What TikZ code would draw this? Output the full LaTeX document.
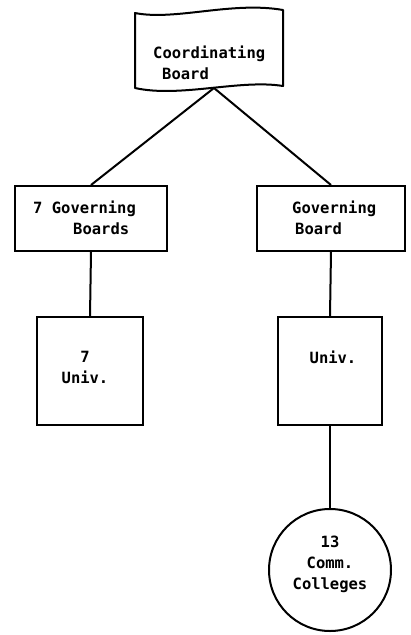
\documentclass[tikz,border=0pt]{standalone}
\usepackage{fontspec}
\setmonofont{DejaVu Sans Mono}
\begin{document}
\begin{tikzpicture}[x=1pt,y=-1pt,
  orgline/.style={line width=2pt},
  orgbox/.style={draw,line width=2pt,rectangle,inner sep=0pt},
  orgtext/.style={font=\ttfamily\bfseries\fontsize{15.5}{21}\selectfont,inner sep=0pt},
]
\useasboundingbox (0,0) rectangle (410,635);

% Coordinating board: a sheet with wavy top and bottom edges
\node[minimum width=148pt,minimum height=78pt,inner sep=0pt] (cb) at (209,50) {};
\draw[orgline,line join=round]
  (135,13) .. controls (175,21) and (232,1) .. (283,10)
  -- (283,86)
  .. controls (240,79) and (180,98) .. (135,88) -- cycle;
\coordinate (cbtip) at (214,88);
\node[orgtext,anchor=west,align=left] (cbt) at (153,63) {Coordinating\\\hspace*{9pt}Board};

% Second level: governing boards
\node[orgbox,minimum width=152pt,minimum height=65pt] (gb1) at (91,218.5) {};
\node[orgtext,anchor=west,align=left] (gb1t) at (33,218) {7 Governing\\\hspace*{40pt}Boards};
\node[orgbox,minimum width=148pt,minimum height=65pt] (gb2) at (331,218.5) {};
\node[orgtext,anchor=west,align=left] (gb2t) at (292,218) {Governing\\\hspace*{3pt}Board};

% Third level: universities
\node[orgbox,minimum width=106pt,minimum height=108pt] (u1) at (90,371) {};
\node[orgtext,align=center] (u1t) at (85,367) {7\\Univ.};
\node[orgbox,minimum width=104pt,minimum height=108pt] (u2) at (330,371) {};
\node[orgtext] (u2t) at (333,357) {Univ.};

% Community colleges
\node[draw,circle,line width=2pt,minimum size=122pt,inner sep=0pt] (cc) at (330,570) {};
\node[orgtext,align=center] (cct) at (330,564) {13\\Comm.\\Colleges};

% Connectors
\draw[orgline] (cbtip) -- (gb1.north);
\draw[orgline] (cbtip) -- (gb2.north);
\draw[orgline] (gb1.south) -- (u1.north);
\draw[orgline] (gb2.south) -- (u2.north);
\draw[orgline] (u2.south) -- (cc.north);
\end{tikzpicture}
\end{document}
